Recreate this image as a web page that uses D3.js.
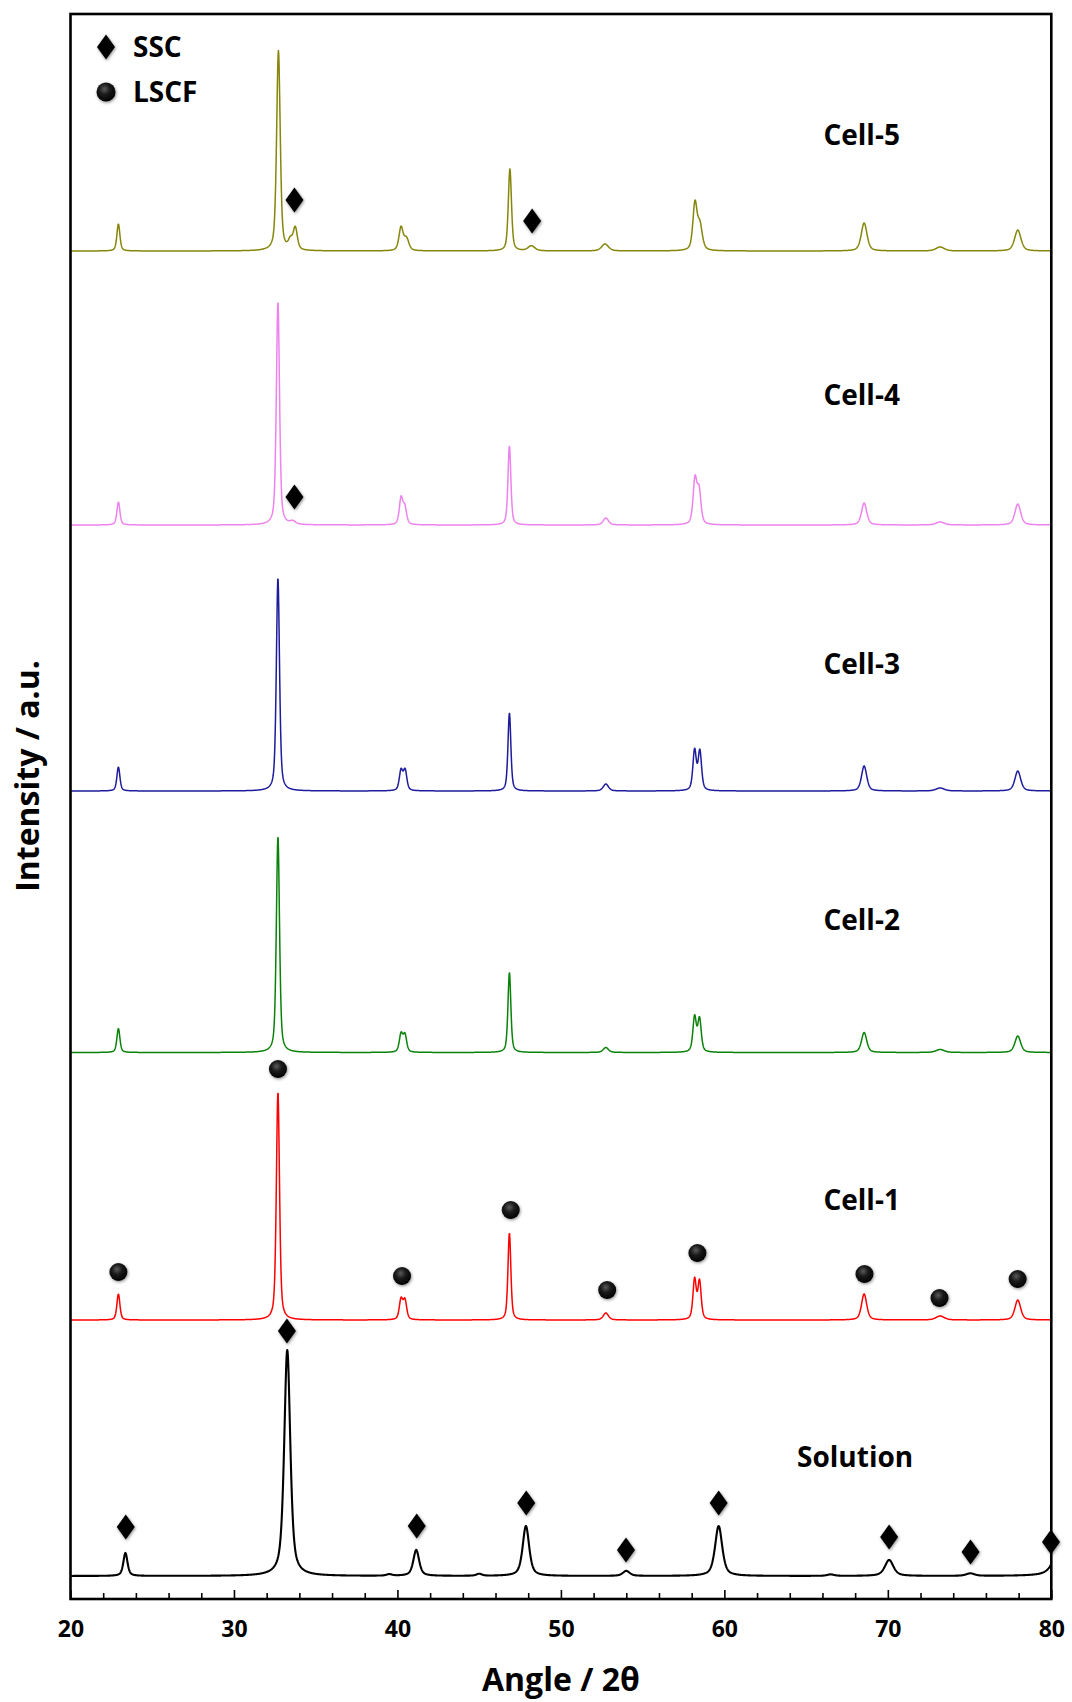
<!DOCTYPE html>
<html>
<head>
<meta charset="utf-8">
<script src="https://cdn.jsdelivr.net/npm/d3@7"></script>
<style>
  html, body { margin: 0; padding: 0; background: #fff; }
  svg { display: block; }
  text { font-family: "Open Sans", "DejaVu Sans", sans-serif; font-weight: 700; fill: #000; }
</style>
</head>
<body>
<div id="chart"></div>
<script>
// ---- data -------------------------------------------------------------
const sampleNames   = ["Solution", "Cell-1", "Cell-2", "Cell-3", "Cell-4", "Cell-5"];
const baselineLevels = [23, 279, 546.5, 808, 1074, 1348];   // stacking offset of each pattern (a.u.)
const labelLevels    = [132, 389, 669, 925, 1194, 1454];    // label baseline (a.u.)
const labelAngles    = [68.0, 68.4, 68.4, 68.4, 68.4, 68.4];

// reflections: [2θ, intensity above background (a.u.), FWHM (deg)]
const peaksSolution = [
  [23.36, 23, 0.30], [33.26, 226, 0.44], [39.5, 1.5, 0.4], [41.15, 26, 0.42],
  [45.0, 2, 0.4], [47.86, 50, 0.47], [54.0, 5, 0.5], [59.65, 50, 0.52],
  [66.5, 1.5, 0.5], [70.08, 16, 0.62], [75.05, 2.5, 0.6], [80.6, 30, 1.0]
];
const peaksCell1 = [
  [22.93, 26, 0.22], [32.69, 228, 0.23], [40.22, 20, 0.25], [40.46, 19, 0.25],
  [46.85, 87, 0.21], [52.75, 7, 0.38], [58.18, 40, 0.24], [58.48, 38, 0.24],
  [68.55, 26, 0.38], [73.2, 4, 0.6], [77.95, 20, 0.42]
];
const peaksCell2 = [
  [22.93, 24, 0.22], [32.69, 216, 0.23], [40.22, 18, 0.25], [40.46, 17, 0.25],
  [46.85, 80, 0.21], [52.75, 5, 0.38], [58.18, 35, 0.25], [58.48, 33, 0.25],
  [68.55, 20, 0.38], [73.2, 3, 0.6], [77.95, 16.5, 0.42]
];
const peaksCell3 = [
  [22.93, 24, 0.22], [32.69, 213, 0.23], [40.22, 20, 0.25], [40.47, 20, 0.25],
  [46.85, 78, 0.21], [52.75, 7, 0.38], [58.18, 40, 0.25], [58.50, 39, 0.25],
  [68.55, 25, 0.38], [73.2, 3, 0.6], [77.95, 20, 0.42]
];
const peaksCell4 = [
  [22.93, 23, 0.22], [32.69, 223, 0.23], [33.6, 3, 0.4], [40.22, 26, 0.25], [40.45, 17, 0.26],
  [46.85, 79, 0.21], [52.75, 7, 0.38], [58.20, 44, 0.27], [58.45, 33, 0.28],
  [68.55, 22, 0.38], [73.2, 3, 0.6], [77.95, 21, 0.42]
];
const peaksCell5 = [
  [22.93, 27, 0.22], [32.72, 200, 0.26], [33.45, 9, 0.30], [33.75, 22, 0.30],
  [40.22, 23, 0.30], [40.55, 12, 0.35], [46.88, 82, 0.23], [48.2, 5, 0.5],
  [52.7, 7, 0.5], [58.20, 46, 0.30], [58.50, 25, 0.35],
  [68.55, 28, 0.42], [73.2, 4, 0.6], [77.95, 21, 0.46]
];
const samplePeaks = [peaksSolution, peaksCell1, peaksCell2, peaksCell3, peaksCell4, peaksCell5];

// phase markers: [2θ, level (a.u.)]
const sscMarkers = [
  [33.70, 1399], [48.24, 1378],                       // Cell-5
  [33.70, 1102],                                      // Cell-4
  [23.38, 72], [33.24, 268], [41.18, 73], [47.88, 96], [53.98, 49],
  [59.65, 96], [70.08, 62], [75.06, 47], [79.98, 57]  // Solution
];
const lscfMarkers = [
  [22.93, 327], [32.69, 530], [40.28, 323], [46.93, 389], [52.83, 309],
  [58.35, 346], [68.57, 325], [73.16, 301], [77.94, 320]  // Cell-1
];

const majorTicks = [20, 30, 40, 50, 60, 70, 80];
const minorTicks = [22, 24, 26, 28, 32, 34, 36, 38, 42, 44, 46, 48, 52, 54, 56, 58,
                    62, 64, 66, 68, 72, 74, 76, 78];
const legendItems = ["SSC", "LSCF"];

// ---- styles -----------------------------------------------------------
const sampleColors = ["#000000", "#ff0000", "#0a820a", "#1c1c9c", "#ee82ee", "#86860a"];
const sampleWidths = [2.1, 1.5, 1.5, 1.5, 1.5, 1.5];

// ---- layout -----------------------------------------------------------
const W = 1072, H = 1702;
const plot = { left: 70.5, right: 1051.3, top: 14, bottom: 1599 };

const svg = d3.select("#chart").append("svg")
  .attr("width", W).attr("height", H).attr("viewBox", `0 0 ${W} ${H}`);

const defs = svg.append("defs");
const shadow = defs.append("filter").attr("id", "markShadow")
  .attr("x", "-50%").attr("y", "-50%").attr("width", "200%").attr("height", "200%");
shadow.append("feDropShadow").attr("dx", 0.8).attr("dy", 1.2)
  .attr("stdDeviation", 1.4).attr("flood-color", "#000").attr("flood-opacity", 0.45);
const gloss = defs.append("radialGradient").attr("id", "ballGloss")
  .attr("cx", "42%").attr("cy", "35%").attr("r", "65%");
gloss.append("stop").attr("offset", "0%").attr("stop-color", "#5a5a5a");
gloss.append("stop").attr("offset", "45%").attr("stop-color", "#1a1a1a");
gloss.append("stop").attr("offset", "100%").attr("stop-color", "#000");

const x = d3.scaleLinear().domain([20, 80]).range([plot.left, plot.right]);
const y = d3.scaleLinear().domain([0, 1585]).range([plot.bottom, plot.top]);

// pseudo-Voigt profile of a set of reflections on a flat background
function profile(peaks, base, eta) {
  const grid = d3.range(20, 80.0001, 0.02);
  return grid.map(t => {
    let v = base;
    for (const [c, h, w] of peaks) {
      const u = (t - c) / w;
      const L = 1 / (1 + 4 * u * u);
      const G = Math.exp(-4 * Math.LN2 * u * u);
      v += h * (eta * L + (1 - eta) * G);
    }
    return [t, v];
  });
}

const line = d3.line().x(d => x(d[0])).y(d => y(d[1]));

// patterns
const traces = svg.append("g").attr("class", "traces");
sampleNames.forEach((name, i) => {
  traces.append("path")
    .datum(profile(samplePeaks[i], baselineLevels[i], i === 0 ? 0.6 : 0.5))
    .attr("fill", "none")
    .attr("stroke", sampleColors[i])
    .attr("stroke-width", sampleWidths[i])
    .attr("stroke-linejoin", "round")
    .attr("d", line);
});

// sample labels
svg.append("g").selectAll("text").data(sampleNames).join("text")
  .attr("x", (d, i) => x(labelAngles[i]))
  .attr("y", (d, i) => y(labelLevels[i]))
  .attr("text-anchor", "middle")
  .attr("font-size", 28)
  .text(d => d);

// marker shapes
const diamond = "M0,-12.5 L9,0 L0,12.5 L-9,0 Z";
const marks = svg.append("g").attr("class", "markers");
marks.selectAll("path.ssc").data(sscMarkers).join("path")
  .attr("class", "ssc")
  .attr("d", diamond)
  .attr("transform", d => `translate(${x(d[0])},${y(d[1])})`)
  .attr("fill", "#000")
  .attr("filter", "url(#markShadow)");
marks.selectAll("circle.lscf").data(lscfMarkers).join("circle")
  .attr("class", "lscf")
  .attr("cx", d => x(d[0])).attr("cy", d => y(d[1]))
  .attr("r", 9)
  .attr("fill", "url(#ballGloss)")
  .attr("filter", "url(#markShadow)");

// legend
const legend = svg.append("g").attr("class", "legend");
legendItems.forEach((label, i) => {
  const cy = 47 + i * 45;
  if (i === 0) {
    legend.append("path").attr("d", diamond)
      .attr("transform", `translate(106,${cy})`)
      .attr("fill", "#000").attr("filter", "url(#markShadow)");
  } else {
    legend.append("circle").attr("cx", 106).attr("cy", cy).attr("r", 9.5)
      .attr("fill", "url(#ballGloss)").attr("filter", "url(#markShadow)");
  }
  legend.append("text").attr("x", 133).attr("y", cy + 9.5)
    .attr("font-size", 28).text(label);
});

// bottom axis: inward minor and major ticks
const gMinor = svg.append("g").attr("transform", `translate(0,${plot.bottom})`)
  .call(d3.axisBottom(x).tickValues(minorTicks).tickSize(-6).tickFormat(""));
const gMajor = svg.append("g").attr("transform", `translate(0,${plot.bottom})`)
  .call(d3.axisBottom(x).tickValues(majorTicks).tickSize(-9).tickPadding(22)
        .tickFormat(d3.format("d")));
[gMinor, gMajor].forEach(g => {
  g.select(".domain").remove();
  g.selectAll(".tick line").attr("stroke", "#000").attr("stroke-width", 1.6);
});
gMajor.selectAll(".tick text")
  .attr("font-family", "\"Open Sans\", sans-serif")
  .attr("font-weight", 700)
  .attr("font-size", 23)
  .attr("fill", "#000");

// frame
svg.append("rect")
  .attr("x", plot.left).attr("y", plot.top)
  .attr("width", plot.right - plot.left).attr("height", plot.bottom - plot.top)
  .attr("fill", "none").attr("stroke", "#000").attr("stroke-width", 2.6);

// axis titles
svg.append("text")
  .attr("x", (plot.left + plot.right) / 2)
  .attr("y", 1691)
  .attr("text-anchor", "middle")
  .attr("font-size", 32)
  .text("Angle / 2θ");

svg.append("text")
  .attr("transform", "translate(39,776) rotate(-90)")
  .attr("text-anchor", "middle")
  .attr("font-size", 32)
  .text("Intensity / a.u.");
</script>
</body>
</html>
